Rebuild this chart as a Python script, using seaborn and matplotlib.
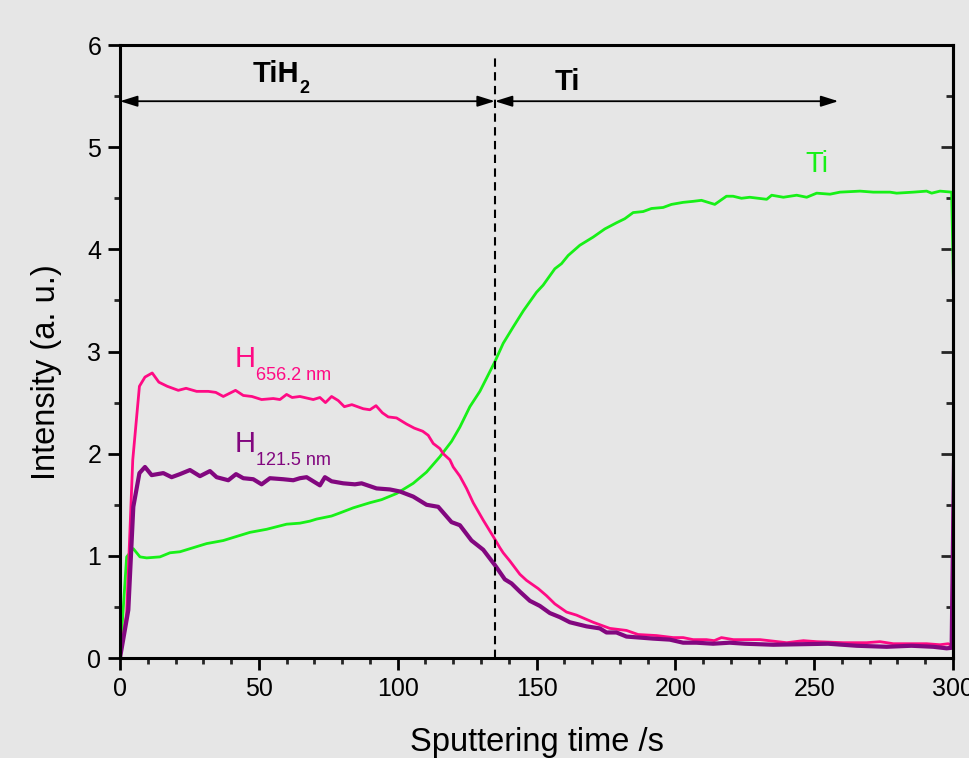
import matplotlib
matplotlib.use("Agg")
import matplotlib.pyplot as plt
from matplotlib.ticker import MultipleLocator
import seaborn as sns

# ---------------- data ----------------
t_h656 = [0, 2.4, 4.6, 7.0, 9.0, 11.6, 14.0, 17.0, 21.0, 23.8, 27.6, 31.8, 34.5, 37.2, 41.6,
          44.4, 47.5, 51.0, 55.2, 57.6, 60.0, 62.0, 64.8, 69.6, 72.0, 74.0, 76.2, 78.6, 80.8,
          83.5, 87.6, 90.0, 92.2, 94.5, 96.6, 99.6, 103.2, 106.0, 109.0, 111.0, 112.8, 115.2,
          116.4, 118.8, 120.0, 122.4, 124.8, 127.2, 130.8, 134.4, 136.8, 138.0, 140.4, 144.0,
          146.4, 150.6, 153.6, 156.6, 160.8, 164.4, 170.4, 176.4, 182.4, 186.6, 193.2, 199.2,
          202.8, 206.4, 211.2, 214.0, 216.6, 220.9, 230.5, 240.1, 246.1, 250.9, 260.5, 268.9,
          273.7, 278.5, 283.3, 290.5, 295.3, 298.3, 299.5, 301.0]
v_h656 = [0, 0.44, 1.94, 2.66, 2.75, 2.79, 2.70, 2.66, 2.62, 2.64, 2.61, 2.61, 2.60, 2.56, 2.62,
          2.57, 2.56, 2.53, 2.54, 2.53, 2.58, 2.55, 2.56, 2.53, 2.55, 2.50, 2.56, 2.52, 2.46,
          2.48, 2.44, 2.43, 2.47, 2.40, 2.36, 2.35, 2.29, 2.25, 2.22, 2.18, 2.10, 2.05,
          2.00, 1.94, 1.87, 1.78, 1.66, 1.52, 1.35, 1.19, 1.08, 1.03, 0.95, 0.82,
          0.76, 0.68, 0.61, 0.53, 0.45, 0.42, 0.35, 0.29, 0.27, 0.23, 0.22, 0.20,
          0.20, 0.18, 0.18, 0.17, 0.20, 0.18, 0.18, 0.15, 0.17, 0.16, 0.15, 0.15,
          0.16, 0.14, 0.14, 0.14, 0.13, 0.14, 0.12, 3.5]

t_h121 = [0, 3.0, 4.8, 7.0, 9.0, 11.4, 15.6, 18.6, 21.6, 25.2, 28.8, 32.4, 34.8, 39.0, 41.8,
          44.4, 48.0, 51.0, 54.0, 58.8, 62.4, 64.8, 67.2, 69.6, 72.0, 73.8, 76.2, 80.4, 84.6,
          87.0, 92.4, 97.2, 100.8, 105.6, 110.4, 114.6, 119.4, 122.4, 126.6, 130.8, 135.0,
          138.6, 141.0, 144.0, 147.6, 151.2, 154.8, 158.4, 162.0, 168.0, 172.8, 175.2, 178.8,
          182.4, 187.2, 192.0, 198.0, 202.8, 207.6, 213.6, 219.6, 225.0, 235.3, 245.0, 255.0,
          265.3, 276.1, 285.0, 292.9, 297.7, 299.5, 301.0]
v_h121 = [0, 0.47, 1.48, 1.81, 1.87, 1.79, 1.81, 1.77, 1.80, 1.84, 1.78, 1.83, 1.77, 1.74, 1.80,
          1.76, 1.75, 1.70, 1.76, 1.75, 1.74, 1.76, 1.77, 1.73, 1.69, 1.77, 1.73, 1.71, 1.70,
          1.71, 1.66, 1.65, 1.63, 1.58, 1.50, 1.48, 1.33, 1.30, 1.15, 1.06, 0.91,
          0.77, 0.73, 0.65, 0.56, 0.51, 0.44, 0.40, 0.35, 0.31, 0.29, 0.25, 0.25,
          0.21, 0.20, 0.19, 0.18, 0.15, 0.15, 0.14, 0.15, 0.14, 0.13, 0.135, 0.14,
          0.12, 0.11, 0.12, 0.11, 0.095, 0.10, 3.3]

t_ti = [0, 2.4, 4.8, 7.2, 9.6, 14.4, 18.0, 21.6, 26.4, 31.2, 37.2, 42.0, 46.8, 52.8, 60.0, 64.8,
        68.4, 70.8, 76.2, 79.2, 84.0, 90.0, 94.2, 99.6, 105.6, 110.4, 115.2, 119.4, 122.4, 126.0,
        129.6, 135.0, 138.0, 141.6, 145.3, 150.0, 152.4, 156.6, 159.0, 161.4, 165.6, 170.4,
        174.6, 178.8, 181.8, 184.8, 188.4, 191.4, 195.6, 198.6, 202.8, 206.4, 209.4, 214.2,
        218.4, 220.8, 223.8, 226.8, 232.9, 234.7, 238.9, 243.7, 247.3, 250.9, 255.7, 259.3,
        266.5, 271.3, 277.3, 279.7, 285.7, 290.5, 292.3, 295.3, 299.5, 301.0]
v_ti = [0, 0.99, 1.07, 0.99, 0.98, 0.99, 1.03, 1.04, 1.08, 1.12, 1.15, 1.19, 1.23, 1.26, 1.31, 1.32,
        1.34, 1.36, 1.39, 1.42, 1.47, 1.52, 1.55, 1.61, 1.71, 1.82, 1.97, 2.12, 2.26, 2.46,
        2.61, 2.90, 3.08, 3.24, 3.40, 3.58, 3.65, 3.81, 3.86, 3.94, 4.04, 4.12,
        4.20, 4.26, 4.30, 4.36, 4.37, 4.40, 4.41, 4.44, 4.46, 4.47, 4.48, 4.44,
        4.52, 4.52, 4.50, 4.51, 4.49, 4.53, 4.51, 4.53, 4.51, 4.55, 4.54, 4.56,
        4.57, 4.56, 4.56, 4.55, 4.56, 4.57, 4.55, 4.57, 4.56, 2.5]

x_ticks = [0, 50, 100, 150, 200, 250, 300]
y_ticks = [0, 1, 2, 3, 4, 5, 6]
boundary_t = 135
region_end_t = 258.7
arrow_y = 5.45

# ---------------- style ----------------
sns.set_theme(style="ticks")
plt.rcParams['font.family'] = ['Liberation Sans', 'DejaVu Sans']
BG = '#e6e6e6'
PINK = '#ff0a84'
PURPLE = '#82077f'
GREEN = '#17f017'

fig = plt.figure(figsize=(9.7, 7.58), dpi=100, facecolor=BG)
ax = fig.add_axes([0.1237, 0.1319, 0.8588, 0.8087])
ax.set_facecolor(BG)

sns.lineplot(x=t_ti, y=v_ti, ax=ax, color=GREEN, lw=2.0, sort=False, estimator=None)
sns.lineplot(x=t_h656, y=v_h656, ax=ax, color=PINK, lw=2.0, sort=False, estimator=None)
sns.lineplot(x=t_h121, y=v_h121, ax=ax, color=PURPLE, lw=3.0, sort=False, estimator=None)

ax.set_xlim(0, 300)
ax.set_ylim(0, 6)
ax.set_xticks(x_ticks)
ax.set_xticklabels([str(v) for v in x_ticks])
ax.set_yticks(y_ticks)
ax.set_yticklabels([str(v) for v in y_ticks])
ax.xaxis.set_minor_locator(MultipleLocator(10))
ax.yaxis.set_minor_locator(MultipleLocator(0.5))

for s in ax.spines.values():
    s.set_linewidth(2.2)
    s.set_color('black')
    s.set_visible(True)

ax.tick_params(axis='both', which='major', direction='out', length=8.5, width=2.0,
               labelsize=18, pad=5, colors='black')
ax.tick_params(axis='both', which='minor', direction='out', length=4.5, width=2.0)
ax.tick_params(top=False, right=False, which='both')

# right-side inward ticks
sec = ax.secondary_yaxis('right')
sec.set_yticks(y_ticks)
sec.yaxis.set_minor_locator(MultipleLocator(0.5))
sec.tick_params(axis='y', which='major', direction='in', length=9, width=2.0, labelright=False)
sec.tick_params(axis='y', which='minor', direction='in', length=5, width=2.0)
sec.spines['right'].set_linewidth(2.2)

ax.set_xlabel('Sputtering time /s', fontsize=23.5, labelpad=19, color='black')
ax.set_ylabel('Intensity (a. u.)', fontsize=23.5, color='black')
ax.yaxis.set_label_coords(-0.07, 0.466)

# boundary dashed line
ax.plot([boundary_t, boundary_t], [0, 5.87], color='black', lw=1.5, ls=(0, (4, 2.6)))

# region arrows
arrow_style = '<|-|>,head_length=0.7,head_width=0.22'
ax.annotate('', xy=(0, arrow_y), xytext=(boundary_t, arrow_y),
            arrowprops=dict(arrowstyle=arrow_style, color='black', lw=1.3,
                            mutation_scale=15, shrinkA=0, shrinkB=0))
ax.annotate('', xy=(region_end_t, arrow_y), xytext=(boundary_t, arrow_y),
            arrowprops=dict(arrowstyle=arrow_style, color='black', lw=1.3,
                            mutation_scale=15, shrinkA=0, shrinkB=0))

# region labels
ax.text(47.9, 5.64, 'TiH', fontsize=21, fontweight='bold', color='black',
        ha='left', va='baseline')
ax.annotate('2', xy=(47.9, 5.64), xytext=(33.5, -8), textcoords='offset points',
            fontsize=13, fontweight='bold', color='black', ha='left', va='baseline')
ax.text(156.6, 5.56, 'Ti', fontsize=21, fontweight='bold', color='black',
        ha='left', va='baseline')

# curve labels
ax.text(246.7, 4.76, 'Ti', fontsize=21, color=GREEN, ha='left', va='baseline')
ax.text(41.4, 2.85, 'H', fontsize=21, color=PINK, ha='left', va='baseline')
ax.annotate('656.2 nm', xy=(41.4, 2.85), xytext=(15.0, -9.5), textcoords='offset points',
            fontsize=13, color=PINK, ha='left', va='baseline')
ax.text(41.4, 2.02, 'H', fontsize=21, color=PURPLE, ha='left', va='baseline')
ax.annotate('121.5 nm', xy=(41.4, 2.02), xytext=(15.0, -9.5), textcoords='offset points',
            fontsize=13, color=PURPLE, ha='left', va='baseline')

fig.savefig('out.png', dpi=100, facecolor=BG)
